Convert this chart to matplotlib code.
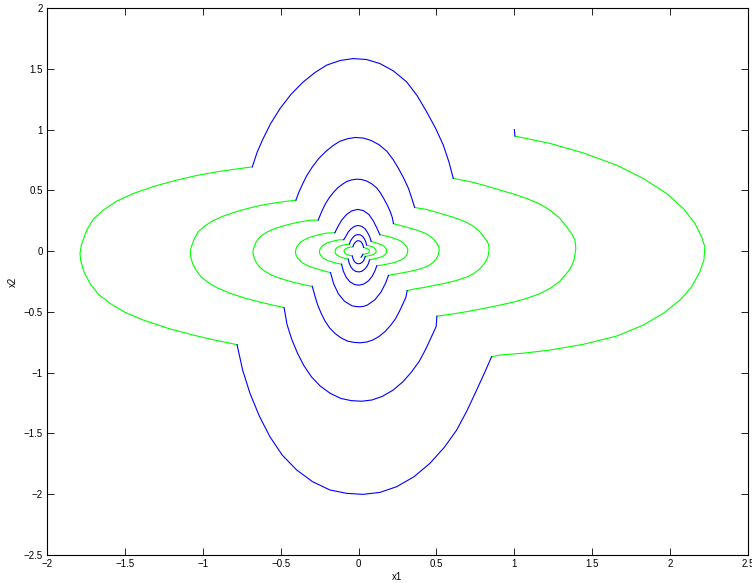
import matplotlib
matplotlib.use('Agg')
import matplotlib.pyplot as plt

# tick values / labels
xticks = [-2, -1.5, -1, -0.5, 0, 0.5, 1, 1.5, 2, 2.5]
xlabels = ['\u22122', '\u22121.5', '\u22121', '\u22120.5', '0', '0.5', '1', '1.5', '2', '2.5']
yticks = [-2.5, -2, -1.5, -1, -0.5, 0, 0.5, 1, 1.5, 2]
ylabels = ['\u22122.5', '\u22122', '\u22121.5', '\u22121', '\u22120.5', '0', '0.5', '1', '1.5', '2']

# trajectory pieces (x1, x2), in the order they are run through
blue_arcs = [
    [(1.000, 1.000), (1.004, 0.946)],
    [(0.854, -0.869), (0.807, -1.006), (0.758, -1.143), (0.698, -1.308), (0.630, -1.472), (0.550, -1.615),
     (0.458, -1.746), (0.356, -1.856), (0.245, -1.938), (0.137, -1.985), (0.030, -2.001), (-0.076, -1.993),
     (-0.184, -1.965), (-0.295, -1.897), (-0.397, -1.801), (-0.490, -1.678), (-0.569, -1.527), (-0.637, -1.357),
     (-0.697, -1.170), (-0.744, -0.979), (-0.780, -0.770)],
    [(-0.682, 0.693), (-0.650, 0.817), (-0.612, 0.927), (-0.564, 1.050), (-0.504, 1.173), (-0.434, 1.289),
     (-0.355, 1.392), (-0.280, 1.469), (-0.205, 1.530), (-0.119, 1.568), (-0.034, 1.584), (0.052, 1.576),
     (0.137, 1.543), (0.223, 1.483), (0.309, 1.392), (0.377, 1.277), (0.437, 1.146), (0.495, 1.009),
     (0.544, 0.872), (0.580, 0.734), (0.608, 0.598)],
    [(0.503, -0.535), (0.498, -0.621), (0.468, -0.705), (0.431, -0.807), (0.389, -0.908), (0.339, -0.996),
     (0.283, -1.077), (0.220, -1.145), (0.151, -1.196), (0.085, -1.225), (0.019, -1.235), (-0.047, -1.230),
     (-0.114, -1.212), (-0.182, -1.170), (-0.245, -1.111), (-0.302, -1.035), (-0.351, -0.942), (-0.393, -0.837),
     (-0.430, -0.722), (-0.459, -0.604), (-0.478, -0.465)],
    [(-0.402, 0.419), (-0.384, 0.482), (-0.361, 0.547), (-0.333, 0.620), (-0.297, 0.692), (-0.256, 0.761),
     (-0.209, 0.821), (-0.165, 0.867), (-0.121, 0.903), (-0.070, 0.925), (-0.020, 0.935), (0.031, 0.930),
     (0.081, 0.910), (0.132, 0.875), (0.182, 0.821), (0.222, 0.753), (0.258, 0.676), (0.292, 0.595),
     (0.321, 0.514), (0.342, 0.433), (0.360, 0.359)],
    [(0.312, -0.325), (0.304, -0.379), (0.286, -0.431), (0.263, -0.493), (0.238, -0.555), (0.207, -0.609),
     (0.173, -0.658), (0.134, -0.700), (0.092, -0.731), (0.052, -0.748), (0.011, -0.754), (-0.029, -0.751),
     (-0.069, -0.741), (-0.111, -0.715), (-0.150, -0.679), (-0.185, -0.633), (-0.215, -0.576), (-0.240, -0.512),
     (-0.263, -0.441), (-0.280, -0.369), (-0.297, -0.290)],
    [(-0.259, 0.255), (-0.243, 0.306), (-0.229, 0.347), (-0.211, 0.393), (-0.188, 0.439), (-0.162, 0.482),
     (-0.133, 0.521), (-0.105, 0.549), (-0.077, 0.572), (-0.045, 0.586), (-0.013, 0.592), (0.019, 0.589),
     (0.051, 0.577), (0.083, 0.555), (0.116, 0.521), (0.141, 0.478), (0.163, 0.429), (0.185, 0.377),
     (0.203, 0.326), (0.217, 0.275), (0.224, 0.226)],
    [(0.192, -0.200), (0.174, -0.262), (0.144, -0.337), (0.105, -0.400), (0.056, -0.444), (0.031, -0.455),
     (0.007, -0.458), (-0.017, -0.456), (-0.042, -0.450), (-0.091, -0.412), (-0.130, -0.350), (-0.160, -0.268),
     (-0.180, -0.177)],
    [(-0.152, 0.151), (-0.133, 0.201), (-0.109, 0.254), (-0.077, 0.301), (-0.044, 0.331), (-0.007, 0.343),
     (0.030, 0.334), (0.067, 0.301), (0.095, 0.248), (0.118, 0.189), (0.137, 0.135)],
    [(0.117, -0.121), (0.106, -0.160), (0.088, -0.206), (0.064, -0.244), (0.034, -0.271), (0.004, -0.280),
     (-0.026, -0.275), (-0.056, -0.252), (-0.080, -0.214), (-0.098, -0.164), (-0.109, -0.108)],
    [(-0.095, 0.094), (-0.081, 0.123), (-0.067, 0.156), (-0.047, 0.185), (-0.027, 0.203), (-0.005, 0.211),
     (0.018, 0.205), (0.041, 0.185), (0.058, 0.152), (0.072, 0.116), (0.081, 0.080)],
    [(0.070, -0.072), (0.065, -0.098), (0.054, -0.126), (0.039, -0.149), (0.021, -0.166), (0.003, -0.171),
     (-0.016, -0.168), (-0.034, -0.154), (-0.049, -0.131), (-0.060, -0.100), (-0.066, -0.066)],
    [(-0.058, 0.058), (-0.053, 0.080), (-0.043, 0.101), (-0.031, 0.120), (-0.018, 0.132), (-0.003, 0.136),
     (0.012, 0.133), (0.027, 0.120), (0.038, 0.099), (0.047, 0.075), (0.051, 0.050)],
    [(0.043, -0.044), (0.039, -0.059), (0.033, -0.077), (0.024, -0.091), (0.013, -0.101), (0.002, -0.104),
     (-0.010, -0.102), (-0.021, -0.094), (-0.030, -0.079), (-0.036, -0.061), (-0.040, -0.040)],
    [(-0.036, 0.036), (-0.033, 0.050), (-0.027, 0.063), (-0.019, 0.075), (-0.011, 0.083), (-0.002, 0.086),
     (0.007, 0.083), (0.017, 0.075), (0.024, 0.062), (0.029, 0.047), (0.032, 0.031)],
    [(0.027, -0.027), (0.024, -0.037), (0.016, -0.050)],
]

green_arcs = [
    [(1.004, 0.946), (1.229, 0.886), (1.442, 0.808), (1.657, 0.707), (1.827, 0.598), (1.978, 0.474),
     (2.084, 0.351), (2.159, 0.228), (2.202, 0.118), (2.223, 0.035), (2.217, -0.074), (2.191, -0.170),
     (2.138, -0.294), (2.063, -0.403), (1.956, -0.512), (1.827, -0.609), (1.657, -0.699), (1.442, -0.767),
     (1.229, -0.814), (1.070, -0.838), (0.908, -0.855), (0.854, -0.869)],
    [(-0.780, -0.770), (-0.922, -0.732), (-1.061, -0.691), (-1.221, -0.636), (-1.382, -0.567), (-1.499, -0.504),
     (-1.596, -0.430), (-1.671, -0.354), (-1.724, -0.266), (-1.763, -0.170), (-1.784, -0.074), (-1.788, -0.019),
     (-1.780, 0.049), (-1.745, 0.173), (-1.703, 0.263), (-1.639, 0.337), (-1.553, 0.411), (-1.446, 0.474),
     (-1.307, 0.535), (-1.168, 0.584), (-1.039, 0.622), (-0.911, 0.652), (-0.793, 0.674), (-0.682, 0.693)],
    [(0.608, 0.598), (0.715, 0.572), (0.810, 0.540), (0.908, 0.502), (1.000, 0.468), (1.079, 0.433),
     (1.160, 0.390), (1.229, 0.337), (1.290, 0.272), (1.336, 0.200), (1.370, 0.140), (1.389, 0.090),
     (1.395, 0.022), (1.383, -0.074), (1.365, -0.130), (1.336, -0.183), (1.290, -0.250), (1.229, -0.307),
     (1.160, -0.352), (1.079, -0.389), (1.000, -0.418), (0.908, -0.444), (0.810, -0.470), (0.700, -0.497),
     (0.600, -0.518), (0.503, -0.535)],
    [(-0.478, -0.465), (-0.557, -0.442), (-0.641, -0.417), (-0.737, -0.384), (-0.835, -0.342), (-0.905, -0.304),
     (-0.964, -0.260), (-1.009, -0.214), (-1.041, -0.161), (-1.065, -0.103), (-1.078, -0.045), (-1.080, -0.011),
     (-1.075, 0.030), (-1.054, 0.104), (-1.029, 0.159), (-0.990, 0.204), (-0.938, 0.248), (-0.873, 0.286),
     (-0.789, 0.323), (-0.705, 0.353), (-0.628, 0.376), (-0.550, 0.394), (-0.479, 0.407), (-0.402, 0.419)],
    [(0.360, 0.359), (0.430, 0.344), (0.487, 0.325), (0.546, 0.302), (0.601, 0.281), (0.648, 0.260),
     (0.697, 0.234), (0.739, 0.203), (0.775, 0.163), (0.803, 0.120), (0.823, 0.084), (0.835, 0.054),
     (0.838, 0.013), (0.831, -0.044), (0.820, -0.078), (0.803, -0.110), (0.775, -0.150), (0.739, -0.185),
     (0.697, -0.212), (0.648, -0.234), (0.601, -0.251), (0.546, -0.267), (0.487, -0.282), (0.421, -0.299),
     (0.361, -0.311), (0.312, -0.325)],
    [(-0.297, -0.290), (-0.349, -0.277), (-0.402, -0.262), (-0.463, -0.241), (-0.524, -0.215), (-0.568, -0.191),
     (-0.605, -0.163), (-0.633, -0.134), (-0.653, -0.101), (-0.668, -0.064), (-0.676, -0.028), (-0.678, -0.007),
     (-0.675, 0.019), (-0.661, 0.066), (-0.645, 0.100), (-0.621, 0.128), (-0.589, 0.156), (-0.548, 0.180),
     (-0.495, 0.203), (-0.443, 0.221), (-0.394, 0.236), (-0.345, 0.247), (-0.301, 0.255), (-0.259, 0.255)],
    [(0.224, 0.226), (0.265, 0.212), (0.301, 0.200), (0.337, 0.186), (0.371, 0.174), (0.400, 0.161),
     (0.430, 0.145), (0.456, 0.125), (0.479, 0.101), (0.496, 0.074), (0.508, 0.052), (0.515, 0.033),
     (0.518, 0.008), (0.513, -0.027), (0.506, -0.048), (0.496, -0.068), (0.479, -0.093), (0.456, -0.114),
     (0.430, -0.131), (0.400, -0.144), (0.371, -0.155), (0.337, -0.165), (0.301, -0.174), (0.260, -0.184),
     (0.223, -0.192), (0.192, -0.200)],
    [(-0.180, -0.177), (-0.240, -0.157), (-0.313, -0.128), (-0.361, -0.097), (-0.390, -0.060), (-0.401, -0.034),
     (-0.405, -0.009), (-0.402, 0.016), (-0.395, 0.039), (-0.371, 0.076), (-0.328, 0.107), (-0.265, 0.132),
     (-0.206, 0.148), (-0.152, 0.151)],
    [(0.137, 0.135), (0.183, 0.122), (0.227, 0.106), (0.263, 0.088), (0.292, 0.062), (0.303, 0.045),
     (0.310, 0.032), (0.315, 0.020), (0.316, 0.005), (0.313, -0.017), (0.309, -0.029), (0.303, -0.041),
     (0.292, -0.057), (0.278, -0.070), (0.244, -0.088), (0.206, -0.101), (0.159, -0.113), (0.117, -0.121)],
    [(-0.109, -0.108), (-0.149, -0.097), (-0.194, -0.080), (-0.224, -0.060), (-0.242, -0.037), (-0.249, -0.021),
     (-0.251, -0.006), (-0.249, 0.010), (-0.245, 0.024), (-0.230, 0.047), (-0.203, 0.067), (-0.164, 0.082),
     (-0.128, 0.092), (-0.095, 0.094)],
    [(0.081, 0.080), (0.118, 0.065), (0.151, 0.051), (0.168, 0.035), (0.178, 0.018), (0.181, 0.003),
     (0.177, -0.017), (0.168, -0.033), (0.151, -0.046), (0.118, -0.058), (0.070, -0.072)],
    [(-0.066, -0.066), (-0.090, -0.059), (-0.117, -0.048), (-0.135, -0.036), (-0.146, -0.023), (-0.150, -0.013),
     (-0.151, -0.003), (-0.150, 0.006), (-0.148, 0.015), (-0.139, 0.029), (-0.122, 0.040), (-0.099, 0.049),
     (-0.077, 0.055), (-0.058, 0.058)],
    [(0.051, 0.050), (0.074, 0.041), (0.094, 0.032), (0.104, 0.022), (0.111, 0.011), (0.113, 0.002),
     (0.111, -0.011), (0.104, -0.020), (0.094, -0.029), (0.074, -0.036), (0.043, -0.044)],
    [(-0.040, -0.040), (-0.055, -0.036), (-0.072, -0.029), (-0.083, -0.022), (-0.090, -0.014), (-0.092, -0.008),
     (-0.093, -0.002), (-0.092, 0.004), (-0.091, 0.009), (-0.085, 0.018), (-0.075, 0.025), (-0.061, 0.030),
     (-0.047, 0.034), (-0.036, 0.036)],
    [(0.032, 0.031), (0.045, 0.025), (0.058, 0.020), (0.065, 0.014), (0.069, 0.007), (0.070, 0.001),
     (0.068, -0.007), (0.065, -0.013), (0.058, -0.018), (0.045, -0.022), (0.027, -0.027)],
]

plt.rcParams['font.family'] = ['Liberation Sans', 'DejaVu Sans']

fig = plt.figure(figsize=(7.52, 5.83), dpi=100)
ax = fig.add_axes([47 / 752, 28 / 583, 701 / 752, 547 / 583])

for arc in green_arcs:
    xs = [p[0] for p in arc]
    ys = [p[1] for p in arc]
    ax.plot(xs, ys, color=(0, 1, 0), lw=0.8, solid_joinstyle='round')
for arc in blue_arcs:
    xs = [p[0] for p in arc]
    ys = [p[1] for p in arc]
    ax.plot(xs, ys, color=(0, 0, 1), lw=0.8, solid_joinstyle='round')

ax.set_xlim(-2, 2.5)
ax.set_ylim(-2.5, 2)
ax.set_xticks(xticks)
ax.set_xticklabels(xlabels)
ax.set_yticks(yticks)
ax.set_yticklabels(ylabels)
ax.tick_params(direction='in', length=5, width=0.6, labelsize=7,
               top=True, right=True, pad=3)
for sp in ax.spines.values():
    sp.set_linewidth(0.8)
ax.set_xlabel('x1', fontsize=7, labelpad=2)
ax.set_ylabel('x2', fontsize=7, labelpad=4)

fig.savefig('out.png', dpi=100)
